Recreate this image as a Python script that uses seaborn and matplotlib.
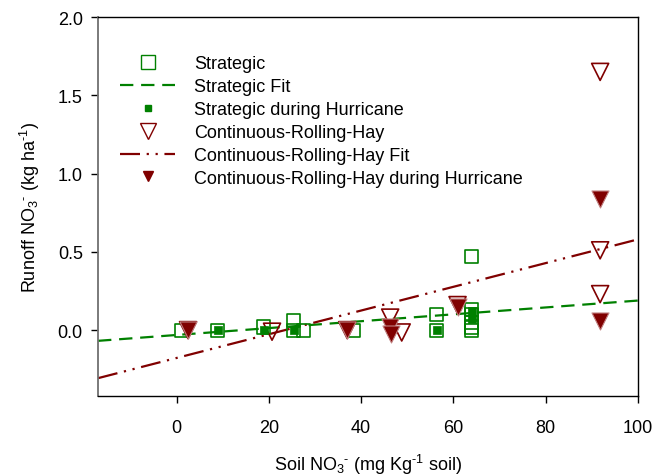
import numpy as np
import pandas as pd
import matplotlib
matplotlib.use("Agg")
import matplotlib.pyplot as plt
from matplotlib.lines import Line2D
import seaborn as sns

# ---- data ----
strat_x = [1.0, 8.9, 18.9, 25.4, 25.4, 27.6, 38.3, 56.4, 56.4, 64.0, 64.0, 64.0, 64.0, 64.0, 64.0]
strat_y = [0.0, 0.0, 0.02, 0.06, 0.0, 0.0, 0.0, 0.10, 0.0, 0.47, 0.13, 0.10, 0.05, 0.02, 0.0]
strat_h_x = [8.9, 18.9, 25.4, 56.4, 64.0, 64.0]
strat_h_y = [0.0, 0.0, 0.0, 0.0, 0.12, 0.07]
crh_x = [2.5, 20.7, 37.0, 46.3, 48.8, 60.9, 91.8, 91.8, 91.8]
crh_y = [0.0, -0.01, 0.0, 0.08, -0.015, 0.16, 1.65, 0.51, 0.23]
crh_h_x = [2.5, 37.0, 46.3, 46.5, 60.9, 91.8, 91.8]
crh_h_y = [0.0, 0.0, 0.02, -0.025, 0.15, 0.84, 0.06]
# linear fits: slope, intercept
strat_fit = (0.0022, -0.031)
crh_fit = (0.00758, -0.178)

x_ticks = [0, 20, 40, 60, 80, 100]
y_ticks = [0.0, 0.5, 1.0, 1.5, 2.0]
xlim = (-17, 100)
ylim = (-0.42, 2.0)

GREEN = "#008000"
RED = "#800000"

sns.set_theme(style="white")
plt.rcParams["font.family"] = ["Liberation Sans", "DejaVu Sans"]
plt.rcParams["mathtext.fontset"] = "custom"
plt.rcParams["mathtext.rm"] = "Liberation Sans"
plt.rcParams["mathtext.it"] = "Liberation Sans:italic"
plt.rcParams["mathtext.bf"] = "Liberation Sans:bold"
plt.rcParams["text.color"] = "black"
plt.rcParams["axes.labelcolor"] = "black"

FS = 13

fig = plt.figure(figsize=(6.67, 4.77), dpi=100)
ax = fig.add_axes([0.147, 0.168, 0.8095, 0.794])

fx = np.array(xlim, dtype=float)
fit_s = pd.DataFrame({"x": fx, "y": strat_fit[0] * fx + strat_fit[1]})
fit_c = pd.DataFrame({"x": fx, "y": crh_fit[0] * fx + crh_fit[1]})

sns.lineplot(data=fit_s, x="x", y="y", ax=ax, color=GREEN, lw=1.6,
             linestyle=(0, (6, 3.5)), zorder=2)
sns.lineplot(data=fit_c, x="x", y="y", ax=ax, color=RED, lw=1.6,
             linestyle=(0, (9, 3, 1, 3, 1, 3)), zorder=2)

sns.scatterplot(x=strat_x, y=strat_y, ax=ax, marker="s", s=90,
                facecolor="none", edgecolor=GREEN, linewidth=1.2, zorder=3)
sns.scatterplot(x=strat_h_x, y=strat_h_y, ax=ax, marker="s", s=30,
                color=GREEN, edgecolor=GREEN, linewidth=0.5, zorder=4)
sns.scatterplot(x=crh_x, y=crh_y, ax=ax, marker="v", s=150,
                facecolor="none", edgecolor=RED, linewidth=1.2, zorder=3)
sns.scatterplot(x=crh_h_x, y=crh_h_y, ax=ax, marker="v", s=150,
                color=RED, edgecolor="#c08080", linewidth=0.8, zorder=4)

ax.set_xlim(*xlim)
ax.set_ylim(*ylim)
ax.set_xticks(x_ticks)
ax.set_yticks(y_ticks)
ax.set_xticklabels([str(v) for v in x_ticks])
ax.set_yticklabels([f"{v:.1f}" for v in y_ticks])
ax.tick_params(axis="both", which="both", direction="out", length=5, width=1,
               colors="black", labelsize=FS)
ax.tick_params(axis="x", pad=12, bottom=True, top=False)
ax.tick_params(axis="y", pad=6, left=True, right=False)
for side in ["top", "bottom", "right"]:
    ax.spines[side].set_color("black")
    ax.spines[side].set_linewidth(1.0)
ax.spines["left"].set_color("#707070")
ax.spines["left"].set_linewidth(1.3)

ax.set_xlabel(r"Soil NO$_3$$^{\text{-}}$ (mg Kg$^{\text{-1}}$ soil)", fontsize=FS,
              labelpad=11, color="black")
ax.set_ylabel(r"Runoff NO$_3$$^{\text{-}}$ (kg ha$^{\text{-1}}$)", fontsize=FS,
              labelpad=11, color="black")

handles = [
    Line2D([], [], marker="s", ls="none", ms=9.5, mfc="none", mec=GREEN, mew=1.0),
    Line2D([], [], color=GREEN, lw=1.6, ls=(0, (6, 3.5))),
    Line2D([], [], marker="s", ls="none", ms=4.5, color=GREEN),
    Line2D([], [], marker="v", ls="none", ms=12, mfc="none", mec=RED, mew=1.0),
    Line2D([], [], color=RED, lw=1.6, ls=(0, (9, 3, 1, 3, 1, 3))),
    Line2D([], [], marker="v", ls="none", ms=7, color=RED),
]
labels = ["Strategic", "Strategic Fit", "Strategic during Hurricane",
          "Continuous-Rolling-Hay", "Continuous-Rolling-Hay Fit",
          "Continuous-Rolling-Hay during Hurricane"]
leg = ax.legend(handles, labels, loc="upper left", bbox_to_anchor=(0.041, 0.90),
                frameon=False, fontsize=FS, handlelength=3.05, handletextpad=1.05,
                labelspacing=0.33, borderaxespad=0, borderpad=0)
for t in leg.get_texts():
    t.set_color("black")

fig.savefig("out.png", dpi=100)
